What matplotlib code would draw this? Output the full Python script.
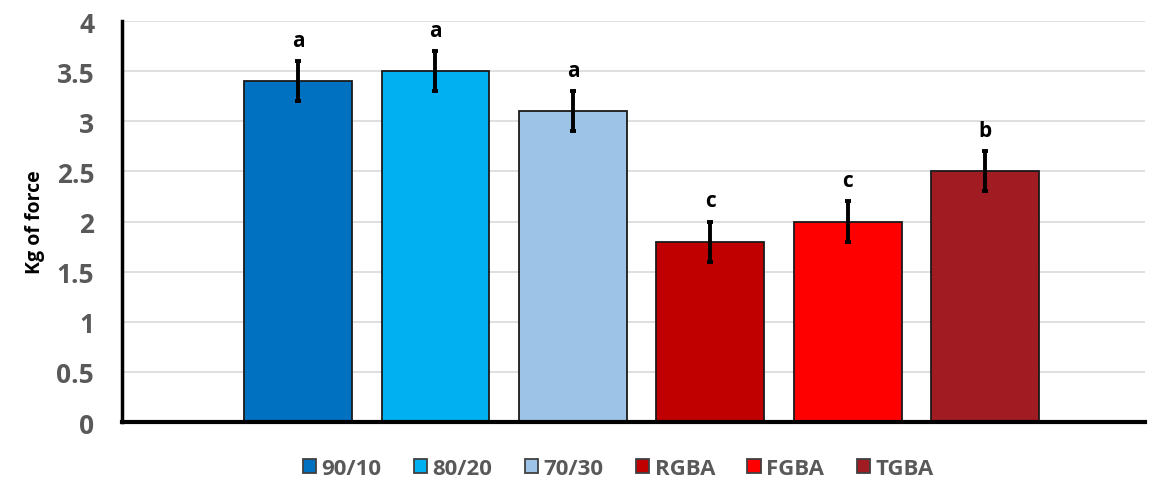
import matplotlib.pyplot as plt
import numpy as np

# Data
groups = ['90/10', '80/20', '70/30', 'RGBA', 'FGBA', 'TGBA']
force = [3.4, 3.5, 3.1, 1.8, 2.0, 2.5]
err = [0.2, 0.2, 0.2, 0.2, 0.2, 0.2]
letters = ['a', 'a', 'a', 'c', 'c', 'b']
colors = ['#0070C0', '#00B0F0', '#9DC3E6', '#C00000', '#FF0000', '#A01C22']

plt.rcParams['font.family'] = ['Open Sans', 'DejaVu Sans']
plt.rcParams['font.weight'] = 'bold'

fig = plt.figure(figsize=(11.53, 4.85), dpi=100)
ax = fig.add_axes([0.1058, 0.1278, 0.8872, 0.8268])

x = np.arange(len(groups))
bars = ax.bar(x, force, width=0.785, color=colors, edgecolor='#1a1a1a',
              linewidth=1.3, label=groups, zorder=2)
ax.errorbar(x, force, yerr=err, fmt='none', ecolor='black', elinewidth=2.8,
            capsize=2.5, capthick=2.8, zorder=3)

# significance letters above each error bar
for xi, v, e, lab in zip(x, force, err, letters):
    ax.text(xi, v + e + 0.1, lab, ha='center', va='bottom',
            fontsize=15, fontweight='bold', color='black')

ax.set_xlim(-1.28, 6.16)
ax.set_ylim(0, 4)
ax.set_yticks(np.arange(0, 4.01, 0.5))
ax.set_yticklabels(['0', '0.5', '1', '1.5', '2', '2.5', '3', '3.5', '4'])
ax.set_xticks([])
ax.tick_params(axis='y', length=0, pad=20, labelsize=19, labelcolor='#595959')
ax.yaxis.grid(True, color='#d9d9d9', linewidth=1.2, zorder=0)
ax.set_axisbelow(True)

for side in ['top', 'right']:
    ax.spines[side].set_visible(False)
ax.spines['left'].set_linewidth(2.5)
ax.spines['bottom'].set_linewidth(3)

ax.set_ylabel('Kg of force', fontsize=14, fontweight='bold', labelpad=8)

leg = ax.legend(handles=list(bars), labels=groups, loc='upper center',
                bbox_to_anchor=(0.485, -0.04), ncol=6, frameon=False,
                handlelength=0.6, handleheight=0.6, handletextpad=0.25,
                columnspacing=1.45, prop={'size': 16, 'weight': 'bold'},
                labelcolor='#595959')
for h in leg.legend_handles:
    h.set_edgecolor('#404040')

fig.savefig('out.png', dpi=100)
